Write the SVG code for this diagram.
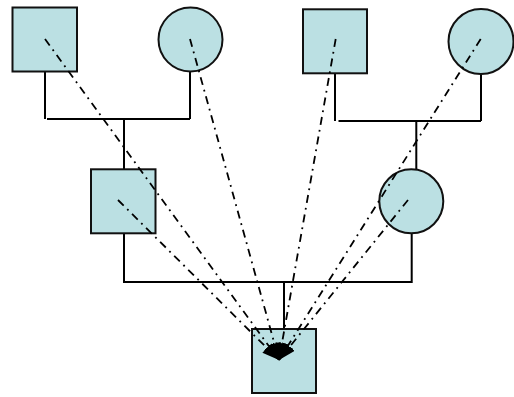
<svg xmlns="http://www.w3.org/2000/svg" width="514" height="397" viewBox="0 0 514 397">
  <style>
    .node { fill: #BBE0E3; stroke: #111; stroke-width: 2; }
    .link { fill: none; stroke: #000; stroke-width: 2; }
    .trace { fill: none; stroke: #000; stroke-width: 1.8; stroke-dasharray: 8 5 1.8 5; }
  </style>
  <defs>
    <marker id="head" markerUnits="userSpaceOnUse" markerWidth="18" markerHeight="14" refX="17" refY="6.5" orient="auto">
      <path d="M0,0 L17,6.5 L0,13 z" fill="#000"/>
    </marker>
  </defs>

  <rect width="514" height="397" fill="#fff"/>

  <!-- family lines -->
  <g id="connectors">
    <path class="link" d="M45,71.5 V119 M47,119 H190 M190,71.5 V119 M124,119 V169"/>
    <path class="link" d="M335,73 V121 M338.5,121 H481 M481,74 V121 M416.3,121 V169"/>
    <path class="link" d="M124,233 V282 H411.7 V233 M284,282 V329"/>
  </g>

  <!-- nodes -->
  <g id="grandfather-paternal"><rect class="node" x="12.5" y="7.5" width="64.5" height="64"/></g>
  <g id="grandmother-paternal"><circle class="node" cx="190.5" cy="39.5" r="32"/></g>
  <g id="grandfather-maternal"><rect class="node" x="303" y="9.3" width="64" height="64"/></g>
  <g id="grandmother-maternal"><circle class="node" cx="481" cy="41.5" r="32.5"/></g>
  <g id="father"><rect class="node" x="91" y="169.3" width="64.5" height="64"/></g>
  <g id="mother"><circle class="node" cx="411.3" cy="201.3" r="32"/></g>
  <g id="child"><rect class="node" x="252" y="329" width="64" height="64"/></g>

  <!-- inheritance traces converging on the child -->
  <g id="traces">
    <line class="trace" x1="45" y1="39" x2="279" y2="360" marker-end="url(#head)"/>
    <line class="trace" x1="190" y1="39" x2="279" y2="360" marker-end="url(#head)"/>
    <line class="trace" x1="335.7" y1="39" x2="279" y2="360" marker-end="url(#head)"/>
    <line class="trace" x1="480.7" y1="39" x2="279" y2="360" marker-end="url(#head)"/>
    <line class="trace" x1="118" y1="200" x2="279" y2="360" marker-end="url(#head)"/>
    <line class="trace" x1="408" y1="200" x2="279" y2="360" marker-end="url(#head)"/>
  </g>
</svg>
